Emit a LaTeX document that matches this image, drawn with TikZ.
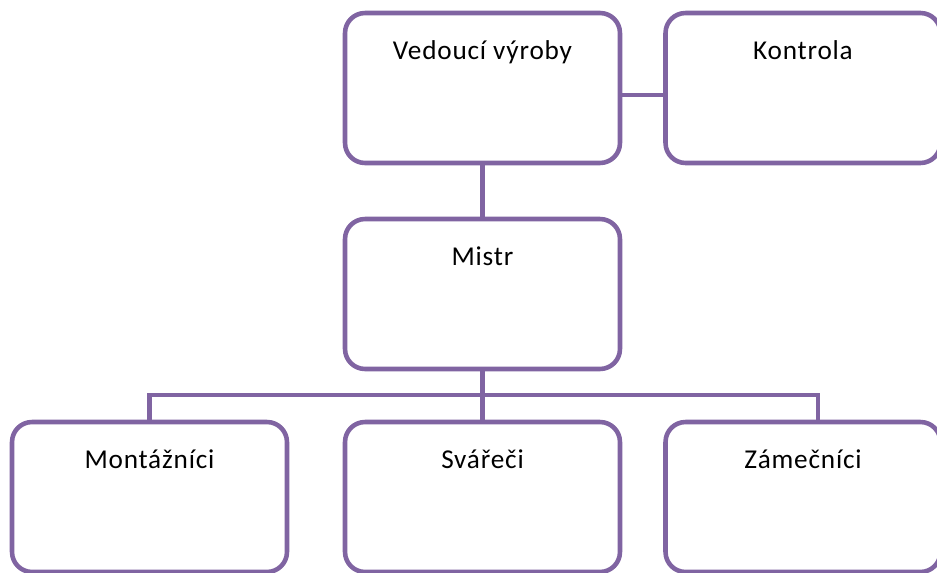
\documentclass[tikz,border=0pt]{standalone}
\usepackage{fontspec}
\setmainfont{Carlito}
\usetikzlibrary{calc}
\definecolor{orgpurple}{HTML}{8064A2}

\begin{document}
\begin{tikzpicture}[x=0.02cm, y=-0.02cm,
	unit/.style={draw=orgpurple, line width=2.6pt, rounded corners=0.4cm, fill=white,
		minimum width=5.5cm, minimum height=3cm, inner sep=0pt},
	link/.style={draw=orgpurple, line width=2.6pt},
	title/.style={anchor=base, yshift=-0.97cm, font=\addfontfeatures{LetterSpace=3}\fontsize{15.5}{18}\selectfont}]
	\useasboundingbox (0,0) rectangle (937,572);
	\clip (0,0) rectangle (937,572);
	\fill[white] (0,0) rectangle (937,572);
	% top row
	\node[unit, label={[title]north:Vedoucí výroby}] (ved) at (482.5,88) {};
	\node[unit, label={[title]north:Kontrola}] (kon) at (803,88) {};
	% middle
	\node[unit, label={[title]north:Mistr}] (mis) at (482.5,294) {};
	% bottom row
	\node[unit, label={[title]north:Montážníci}] (mon) at (149.5,497) {};
	\node[unit, label={[title]north:Svářeči}] (sva) at (482.5,497) {};
	\node[unit, label={[title]north:Zámečníci}] (zam) at (803,497) {};
	\coordinate (bus) at (482.5,395);
	\draw[link] ([yshift=-0.14cm]ved.east) -- ([yshift=-0.14cm]kon.west);
	\draw[link] (ved.south) -- (mis.north);
	\draw[link] (mis.south) -- (sva.north);
	\draw[link, rounded corners=0pt] (mon.north) |- (bus) -| ([xshift=0.3cm]zam.north);
\end{tikzpicture}
\end{document}
